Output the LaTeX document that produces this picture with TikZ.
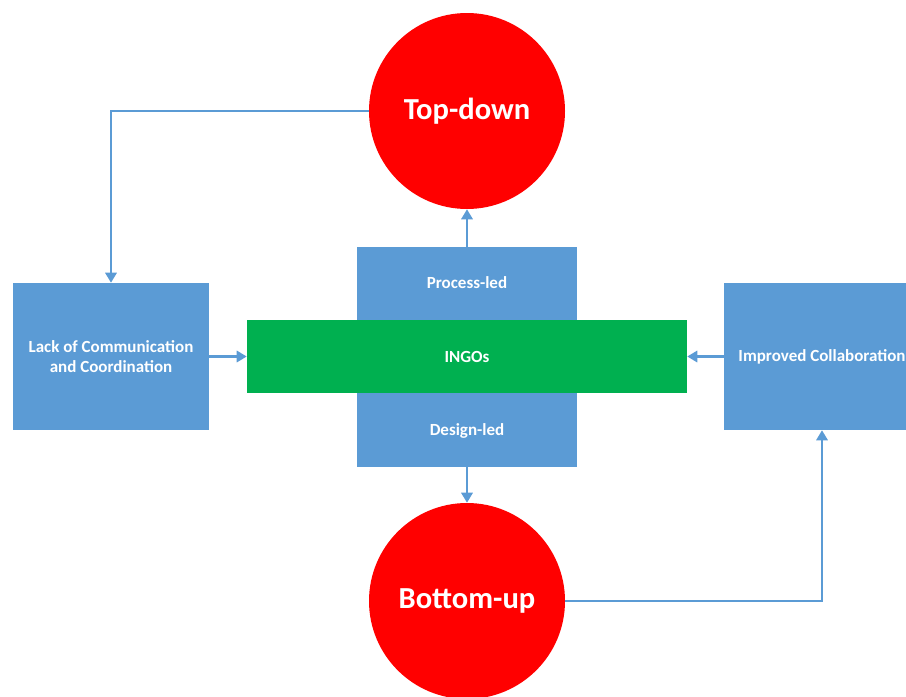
\documentclass[tikz,border=0pt]{standalone}
\usepackage{fontspec}
\setmainfont{Carlito}
\usetikzlibrary{arrows.meta}
\definecolor{boxblue}{HTML}{5B9BD5}
\definecolor{circred}{HTML}{FF0000}
\definecolor{ingogreen}{HTML}{00B050}
\definecolor{linkblue}{HTML}{5B9BD5}
\tikzset{
  bluebox/.style={rectangle, fill=boxblue, draw=none, inner sep=0pt, text=white, font=\fontsize{12.75}{15.5}\selectfont\bfseries, align=center},
  greenbox/.style={rectangle, fill=ingogreen, draw=none, inner sep=0pt, text=white, font=\fontsize{12.75}{15.5}\selectfont\bfseries},
  redcirc/.style={circle, fill=circred, draw=none, inner sep=0pt, minimum size=147pt, text=white, font=\fontsize{22.9}{27}\selectfont\bfseries},
  lbl/.style={text=white, font=\fontsize{12.75}{15.5}\selectfont\bfseries, inner sep=0pt},
  link/.style={draw=linkblue, line width=1.6pt, -{Triangle[width=8.5pt,length=7.5pt]}}
}
\begin{document}
\begin{tikzpicture}[x=0.75pt,y=-0.75pt]
\useasboundingbox (0,0) rectangle (906,696);
\clip (0,0) rectangle (906,696);
\fill[white] (0,0) rectangle (906,696);
\node[redcirc] (top) at (467,111) {Top-down};
\node[redcirc] (bot) at (467,601) {Bottom-up};
\node[bluebox, minimum width=165pt, minimum height=165pt] (mid) at (467,357) {};
\node[greenbox, minimum width=330pt, minimum height=54.75pt] (ingo) at (467,356.5) {INGOs};
\node[lbl] (proc) at (467,283) {Process-led};
\node[lbl] (des) at (467,431) {Design-led};
\node[bluebox, minimum width=147pt, minimum height=110.25pt] (lack) at (111,356.5) {Lack of Communication\\and Coordination};
\node[bluebox, minimum width=147pt, minimum height=110.25pt] (impr) at (822,356.5) {Improved Collaboration};
\draw[link] (top.west) -| (lack.north);
\draw[link] (mid.north) -- (top.south);
\draw[link] (mid.south) -- (bot.north);
\draw[link] (bot.east) -| (impr.south);
\draw[link] (lack.east) -- (ingo.west);
\draw[link] (impr.west) -- (ingo.east);
\end{tikzpicture}
\end{document}
